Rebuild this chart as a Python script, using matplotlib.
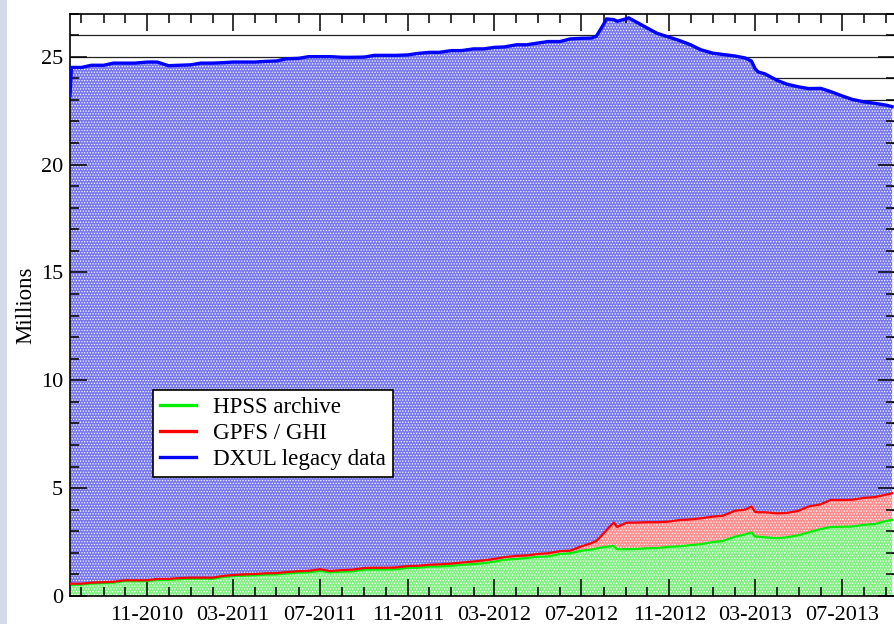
import matplotlib
matplotlib.use("Agg")
import matplotlib.pyplot as plt
import matplotlib.dates as mdates
from matplotlib.patches import Rectangle
import numpy as np
import pandas as pd

# semi-monthly readings, values in millions of files
dates = pd.to_datetime([
    "2010-07-16", "2010-07-18", "2010-08-01", "2010-08-15", "2010-09-01", "2010-09-15",
    "2010-10-01", "2010-10-15", "2010-11-01", "2010-11-15", "2010-12-01", "2010-12-15",
    "2011-01-01", "2011-01-15", "2011-02-01", "2011-02-15", "2011-03-01", "2011-03-15",
    "2011-04-01", "2011-04-15", "2011-05-01", "2011-05-15", "2011-06-01", "2011-06-15",
    "2011-07-01", "2011-07-15", "2011-08-01", "2011-08-15", "2011-09-01", "2011-09-15",
    "2011-10-01", "2011-10-15", "2011-11-01", "2011-11-15", "2011-12-01", "2011-12-15",
    "2012-01-01", "2012-01-15", "2012-02-01", "2012-02-15", "2012-03-01", "2012-03-15",
    "2012-04-01", "2012-04-15", "2012-05-01", "2012-05-15", "2012-06-01", "2012-06-15",
    "2012-07-01", "2012-07-15", "2012-07-22", "2012-08-01", "2012-08-05", "2012-08-15",
    "2012-08-20", "2012-09-01", "2012-09-05", "2012-09-15", "2012-10-01", "2012-10-15",
    "2012-11-01", "2012-11-15", "2012-12-01", "2012-12-15", "2013-01-01", "2013-01-15",
    "2013-02-01", "2013-02-15", "2013-02-24", "2013-03-01", "2013-03-05", "2013-03-15",
    "2013-04-01", "2013-04-15", "2013-05-01", "2013-05-15", "2013-06-01", "2013-06-15",
    "2013-07-01", "2013-07-15", "2013-08-01", "2013-08-15", "2013-09-01", "2013-09-09",
])

hpss = [
    0.52, 0.52, 0.53, 0.58, 0.60, 0.62, 0.69, 0.69, 0.69, 0.75, 0.75, 0.78,
    0.80, 0.80, 0.80, 0.88, 0.92, 0.94, 0.96, 0.99, 1.00, 1.04, 1.08, 1.10,
    1.16, 1.10, 1.13, 1.14, 1.22, 1.23, 1.23, 1.24, 1.30, 1.31, 1.36, 1.37,
    1.40, 1.44, 1.48, 1.52, 1.59, 1.68, 1.72, 1.76, 1.82, 1.83, 1.95, 1.98,
    2.10, 2.15, 2.20, 2.27, 2.28, 2.32, 2.17, 2.17, 2.17, 2.18, 2.21, 2.22,
    2.28, 2.30, 2.36, 2.40, 2.50, 2.55, 2.75, 2.85, 2.95, 2.76, 2.75, 2.72,
    2.68, 2.72, 2.82, 2.95, 3.10, 3.20, 3.21, 3.22, 3.30, 3.33, 3.48, 3.53,
]
gpfs = [
    0.05, 0.05, 0.04, 0.04, 0.04, 0.04, 0.04, 0.04, 0.04, 0.04, 0.04, 0.05,
    0.05, 0.05, 0.05, 0.05, 0.05, 0.06, 0.06, 0.06, 0.06, 0.07, 0.07, 0.07,
    0.08, 0.06, 0.07, 0.08, 0.08, 0.08, 0.08, 0.08, 0.09, 0.09, 0.09, 0.10,
    0.10, 0.11, 0.12, 0.13, 0.13, 0.12, 0.14, 0.12, 0.13, 0.15, 0.13, 0.12,
    0.20, 0.30, 0.35, 0.63, 0.77, 1.08, 1.03, 1.21, 1.23, 1.22, 1.21, 1.20,
    1.17, 1.22, 1.19, 1.20, 1.18, 1.17, 1.20, 1.15, 1.20, 1.14, 1.13, 1.16,
    1.15, 1.13, 1.13, 1.20, 1.15, 1.25, 1.24, 1.24, 1.25, 1.25, 1.22, 1.23,
]
dxul = [
    22.63, 23.93, 23.93, 23.98, 23.96, 24.04, 23.97, 23.97, 24.02, 23.96, 23.79, 23.77,
    23.77, 23.85, 23.85, 23.79, 23.78, 23.75, 23.73, 23.73, 23.74, 23.79, 23.77, 23.83,
    23.76, 23.84, 23.77, 23.75, 23.68, 23.75, 23.75, 23.74, 23.69, 23.75, 23.75, 23.73,
    23.78, 23.73, 23.76, 23.71, 23.71, 23.65, 23.69, 23.67, 23.68, 23.72, 23.62, 23.72,
    23.55, 23.41, 23.40, 23.60, 23.70, 23.32, 23.44, 23.37, 23.40, 23.22, 22.91, 22.66,
    22.45, 22.23, 22.00, 21.72, 21.48, 21.38, 21.08, 20.94, 20.65, 20.55, 20.42, 20.32,
    20.07, 19.87, 19.65, 19.37, 19.28, 18.93, 18.73, 18.56, 18.35, 18.26, 18.05, 17.92,
]

labels = ["HPSS archive", "GPFS / GHI", "DXUL legacy data"]
line_colors = ["#00ee00", "#ff0000", "#0000ff"]
fill_colors = ["#80f080", "#ff8c8c", "#7676ee"]

plt.rcParams["font.family"] = ["Liberation Serif", "DejaVu Serif"]
plt.rcParams["hatch.linewidth"] = 0.6

fig = plt.figure(figsize=(8.94, 6.24), dpi=100)
fig.patches.append(Rectangle((0, 0), 7 / 894, 1, transform=fig.transFigure,
                             facecolor="#d3dbeb", edgecolor="none", zorder=0))
ax = fig.add_axes([70 / 894, 28 / 624, 825 / 894, 582.5 / 624])

levels = np.cumsum(np.vstack([hpss, gpfs, dxul]), axis=0)
lower = np.zeros(len(dates))
widths = [1.6, 1.6, 2.4]
for i in range(3):
    ax.fill_between(dates, lower, levels[i], facecolor=fill_colors[i],
                    edgecolor="white", hatch="......", linewidth=0, zorder=1)
    lower = levels[i]
for i in range(3):
    ax.plot(dates, levels[i], color=line_colors[i], lw=widths[i],
            label=labels[i], zorder=2 + i)

# horizontal grid every million, hidden behind the filled areas
ax.hlines(np.arange(1, 27), 0, 1, transform=ax.get_yaxis_transform(),
          color="#222222", lw=0.9, zorder=0.5)

ax.set_xlim(pd.Timestamp("2010-07-16"), pd.Timestamp("2013-09-13"))
ax.set_ylim(0, 27)
ax.xaxis.set_major_locator(mdates.MonthLocator(bymonth=[3, 7, 11]))
ax.xaxis.set_minor_locator(mdates.MonthLocator())
ax.xaxis.set_major_formatter(mdates.DateFormatter("%m-%Y"))
ax.set_yticks(np.arange(0, 26, 5))
ax.set_yticks(np.arange(0, 28, 1), minor=True)

ax.tick_params(which="both", direction="in", top=True, right=True,
               width=1.1, color="black", labelsize=16)
ax.tick_params(which="major", length=12.5)
ax.tick_params(which="minor", length=6.5)
ax.tick_params(axis="x", pad=7)
ax.tick_params(axis="y", pad=5)
for s in ax.spines.values():
    s.set_linewidth(1.2)

ax.set_ylabel("Millions", fontsize=16.5, labelpad=3)

leg = ax.legend(loc="lower left", bbox_to_anchor=(0.1007, 0.2045), borderaxespad=0,
                fontsize=16.6, frameon=True, fancybox=False, framealpha=1,
                edgecolor="black", handlelength=1.55, handletextpad=0.75,
                borderpad=0.3, labelspacing=0.2)
leg.get_frame().set_linewidth(1.2)
for h in leg.get_lines():
    h.set_linewidth(2.4)

fig.savefig("out.png", dpi=100)
